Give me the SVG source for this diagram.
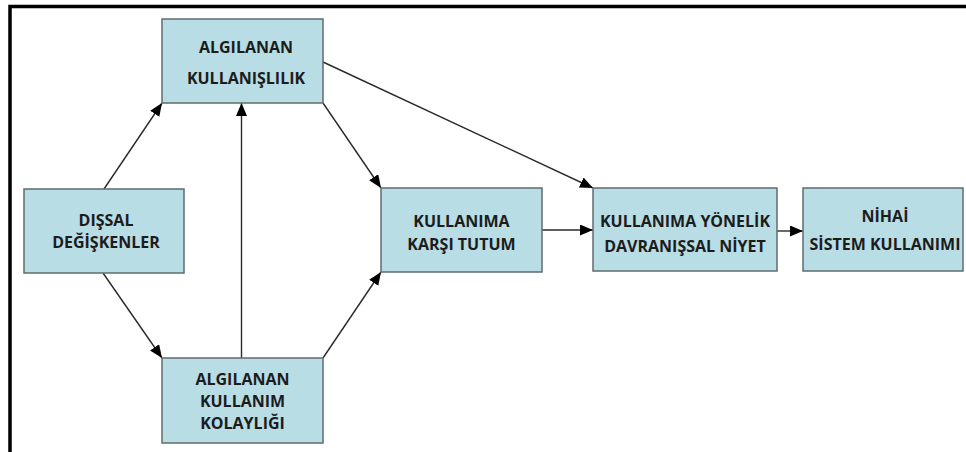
<svg xmlns="http://www.w3.org/2000/svg" width="966" height="452" viewBox="0 0 966 452">
  <style>
    .box { fill: #b8dde5; stroke: #5f6b6e; stroke-width: 1.5; }
    .lbl { font-family: "Open Sans", "Liberation Sans", sans-serif; font-weight: bold; font-size: 16px; fill: #1c1c1c; text-anchor: middle; }
    .edge { fill: none; stroke: #2a2a2a; stroke-width: 1.4; marker-end: url(#arrow); }
  </style>
  <defs>
    <marker id="arrow" markerUnits="userSpaceOnUse" markerWidth="14" markerHeight="12" refX="13" refY="5.5" orient="auto">
      <path d="M0,0 L13,5.5 L0,11 z" fill="#000000"/>
    </marker>
  </defs>

  <rect width="966" height="452" fill="#ffffff"/>
  <!-- frame -->
  <path d="M10,452 V6.5 H966" fill="none" stroke="#000000" stroke-width="3.5"/>

  <g id="connectors">
    <line class="edge" x1="104" y1="189" x2="162" y2="103"/>
    <line class="edge" x1="103" y1="273" x2="162" y2="358"/>
    <line class="edge" x1="241.5" y1="358" x2="241.5" y2="103"/>
    <line class="edge" x1="323" y1="103" x2="381" y2="188"/>
    <line class="edge" x1="323" y1="358" x2="381" y2="272"/>
    <line class="edge" x1="323" y1="62" x2="593" y2="188"/>
    <line class="edge" x1="542" y1="230" x2="593" y2="230"/>
    <line class="edge" x1="777" y1="231" x2="803" y2="231"/>
  </g>

  <g id="algilanan-kullanislilik">
    <rect class="box" x="162" y="19" width="161" height="84"/>
    <text class="lbl" x="246" y="53">ALGILANAN</text>
    <text class="lbl" x="246" y="84">KULLANIŞLILIK</text>
  </g>

  <g id="dissal-degiskenler">
    <rect class="box" x="24" y="189" width="160" height="84"/>
    <text class="lbl" x="106" y="226">DIŞSAL</text>
    <text class="lbl" x="106" y="248">DEĞİŞKENLER</text>
  </g>

  <g id="algilanan-kullanim-kolayligi">
    <rect class="box" x="162" y="358" width="161" height="85"/>
    <text class="lbl" x="242.5" y="385">ALGILANAN</text>
    <text class="lbl" x="242.5" y="407">KULLANIM</text>
    <text class="lbl" x="242.5" y="429">KOLAYLIĞI</text>
  </g>

  <g id="kullanima-karsi-tutum">
    <rect class="box" x="381" y="188" width="161" height="84"/>
    <text class="lbl" x="461.5" y="227">KULLANIMA</text>
    <text class="lbl" x="461.5" y="250">KARŞI TUTUM</text>
  </g>

  <g id="davranissal-niyet">
    <rect class="box" x="593" y="188" width="184" height="83"/>
    <text class="lbl" x="685" y="227">KULLANIMA YÖNELİK</text>
    <text class="lbl" x="685" y="252">DAVRANIŞSAL NİYET</text>
  </g>

  <g id="nihai-sistem-kullanimi">
    <rect class="box" x="803" y="188" width="160" height="83"/>
    <text class="lbl" x="885" y="222">NİHAİ</text>
    <text class="lbl" x="885" y="250">SİSTEM KULLANIMI</text>
  </g>
</svg>
